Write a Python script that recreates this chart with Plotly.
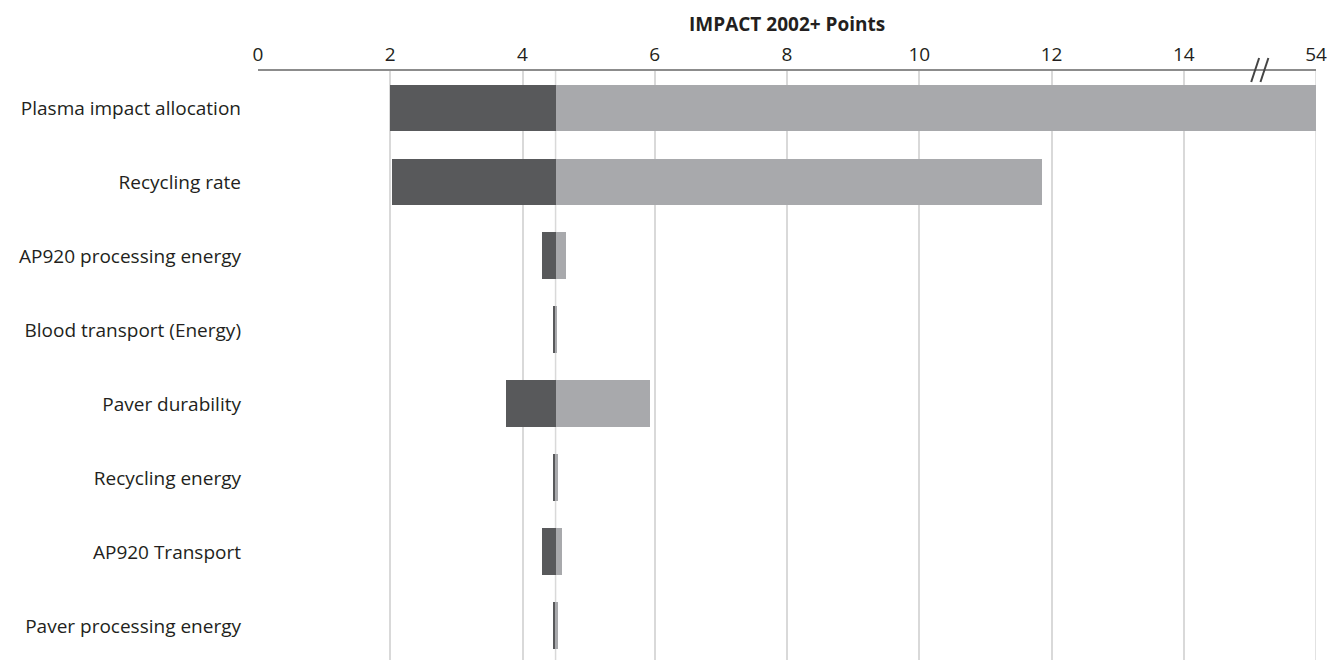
import plotly.graph_objects as go

# Sensitivity of IMPACT 2002+ result to each parameter (low / high scenario)
categories = [
    "Plasma impact allocation",
    "Recycling rate",
    "AP920 processing energy",
    "Blood transport (Energy)",
    "Paver durability",
    "Recycling energy",
    "AP920 Transport",
    "Paver processing energy",
]
baseline = 4.5
low_values = [2.0, 2.02, 4.3, 4.47, 3.75, 4.46, 4.3, 4.46]
high_values = [54.0, 11.85, 4.66, 4.52, 5.93, 4.53, 4.59, 4.53]

tick_values = [0, 2, 4, 6, 8, 10, 12, 14, 54]

# Broken axis: 0..15 is linear, 15..54 is squeezed into one unit
BREAK_START, BREAK_END = 15.0, 54.0


def axis_pos(v):
    if v <= BREAK_START:
        return v
    return BREAK_START + (v - BREAK_START) / (BREAK_END - BREAK_START)


base_pos = axis_pos(baseline)
low_pos = [axis_pos(v) for v in low_values]
high_pos = [axis_pos(v) for v in high_values]

DARK = "#58595b"
LIGHT = "#a8a9ac"
GRID = "#d9d9d9"
FONT = "Open Sans"

fig = go.Figure()
fig.add_trace(go.Bar(
    y=categories,
    x=[base_pos - p for p in low_pos],
    base=low_pos,
    orientation="h",
    marker=dict(color=DARK, line=dict(width=0)),
    width=0.635,
    name="Low",
))
fig.add_trace(go.Bar(
    y=categories,
    x=[p - base_pos for p in high_pos],
    base=[base_pos] * len(categories),
    orientation="h",
    marker=dict(color=LIGHT, line=dict(width=0)),
    width=0.635,
    name="High",
))

fig.update_layout(
    width=1331,
    height=660,
    margin=dict(l=258, r=15, t=71, b=0),
    paper_bgcolor="white",
    plot_bgcolor="white",
    barmode="overlay",
    bargap=0,
    showlegend=False,
    font=dict(family=FONT, size=19, color="#231f20"),
    xaxis=dict(
        side="top",
        range=[0, 16],
        tickvals=[axis_pos(v) for v in tick_values],
        ticktext=[str(v) for v in tick_values],
        showgrid=True,
        gridcolor=GRID,
        gridwidth=1.5,
        showline=True,
        linecolor="#8c8c8c",
        linewidth=2,
        ticks="",
        zeroline=False,
        tickfont=dict(size=19),
        ticklabelstandoff=0,
    ),
    yaxis=dict(
        type="category",
        categoryorder="array",
        categoryarray=categories,
        range=[7.46, -0.5],
        showgrid=False,
        zeroline=False,
        showline=False,
        ticks="",
        ticklabelstandoff=16,
        tickfont=dict(size=19),
    ),
    annotations=[dict(
        text="<b>IMPACT 2002+ Points</b>",
        x=0.5, xref="paper",
        y=1 + 47 / 589, yref="paper",
        xanchor="center", yanchor="middle",
        showarrow=False,
        font=dict(size=19, family=FONT, color="#231f20"),
    )],
)

# Baseline reference line and right-edge grid line
fig.add_shape(type="line", xref="x", yref="paper", x0=base_pos, x1=base_pos,
              y0=0, y1=1, line=dict(color=GRID, width=1.5), layer="below")
fig.add_shape(type="line", xref="x", yref="paper", x0=16, x1=16,
              y0=0, y1=1, line=dict(color=GRID, width=1.5), layer="below")

# Axis-break marks ("//") on the top axis line
for dx in (0.0, 0.14):
    fig.add_shape(type="line", xref="x", yref="paper",
                  x0=15.02 + dx, x1=15.14 + dx,
                  y0=1 - 11 / 589, y1=1 + 13 / 589,
                  line=dict(color="#444444", width=2))

fig.write_html("out.html")
